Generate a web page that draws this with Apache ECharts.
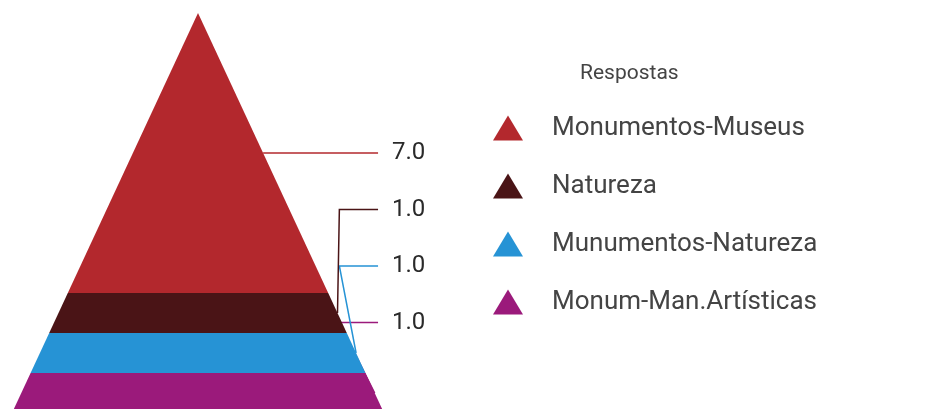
<!DOCTYPE html>
<html>
<head>
<meta charset="utf-8">
<script src="https://cdn.jsdelivr.net/npm/echarts@6/dist/echarts.min.js"></script>
<style>
    html, body { margin: 0; padding: 0; background: #fff; }
    #chart { width: 925px; height: 409px; }
</style>
</head>
<body>
<div id="chart"></div>
<script>
const categories = ['Monumentos-Museus', 'Natureza', 'Munumentos-Natureza', 'Monum-Man.Artísticas'];
const values = [7, 1, 1, 1];
const colors = ['#b3282d', '#4a1416', '#2693d5', '#9b1a7b'];

const total = values.reduce((a, b) => a + b, 0);
const starts = values.map((v, i) => values.slice(0, i).reduce((a, b) => a + b, 0));

// label rows: first sits level with its layer, the rest step down
const labelGap = 56.5;
let firstLabelY = null;

function pyramidItem (idx) {
    return function (params, api) {
        let s = starts[idx];
        let e = s + values[idx];
        let m = (s + e) / 2;
        let p1 = api.coord([-s / total, s]);
        let p2 = api.coord([s / total, s]);
        let p3 = api.coord([e / total, e]);
        let p4 = api.coord([-e / total, e]);
        let anchor = api.coord([m / total, m]);
        if (idx === 0) firstLabelY = anchor[1];
        let ly = firstLabelY + idx * labelGap;
        let elbowX = api.coord([0.76, 0])[0];
        let endX = api.coord([0.968, 0])[0];
        return {
            type: 'group',
            children: [
                {
                    type: 'polyline',
                    shape: { points: [anchor, [elbowX, ly], [endX, ly]] },
                    style: { stroke: colors[idx], lineWidth: 1.5, fill: null }
                },
                {
                    type: 'polygon',
                    shape: { points: [p1, p2, p3, p4] },
                    style: { fill: colors[idx] }
                },
                {
                    type: 'text',
                    x: endX + 14,
                    y: ly,
                    style: {
                        text: values[idx].toFixed(1),
                        fill: '#2a2a2a',
                        font: '24px Roboto',
                        verticalAlign: 'middle'
                    }
                }
            ]
        };
    };
}

const chart = echarts.init(document.getElementById('chart'));
chart.setOption({
    color: colors,
    animation: false,
    title: {
        text: 'Respostas',
        left: 575,
        top: 58,
        textStyle: {
            fontFamily: 'Roboto',
            fontSize: 21,
            fontWeight: 'normal',
            color: '#444'
        }
    },
    legend: {
        orient: 'vertical',
        left: 493,
        top: 115,
        padding: 0,
        icon: 'triangle',
        itemWidth: 30,
        itemHeight: 25,
        itemGap: 32,
        data: categories,
        textStyle: {
            fontFamily: 'Roboto',
            fontSize: 26,
            color: '#444',
            padding: [0, 0, 0, 24]
        }
    },
    grid: {
        left: 12,
        top: 13,
        width: 372,
        height: 400,
        outerBoundsMode: 'none'
    },
    xAxis: {
        type: 'value',
        min: -1,
        max: 1,
        show: false
    },
    yAxis: {
        type: 'value',
        min: 0,
        max: total,
        inverse: true,
        show: false
    },
    series: categories.map((name, i) => ({
        name: name,
        type: 'custom',
        z: 10 - i,
        clip: false,
        renderItem: pyramidItem(i),
        data: [[0, starts[i]]]
    }))
});
</script>
</body>
</html>
